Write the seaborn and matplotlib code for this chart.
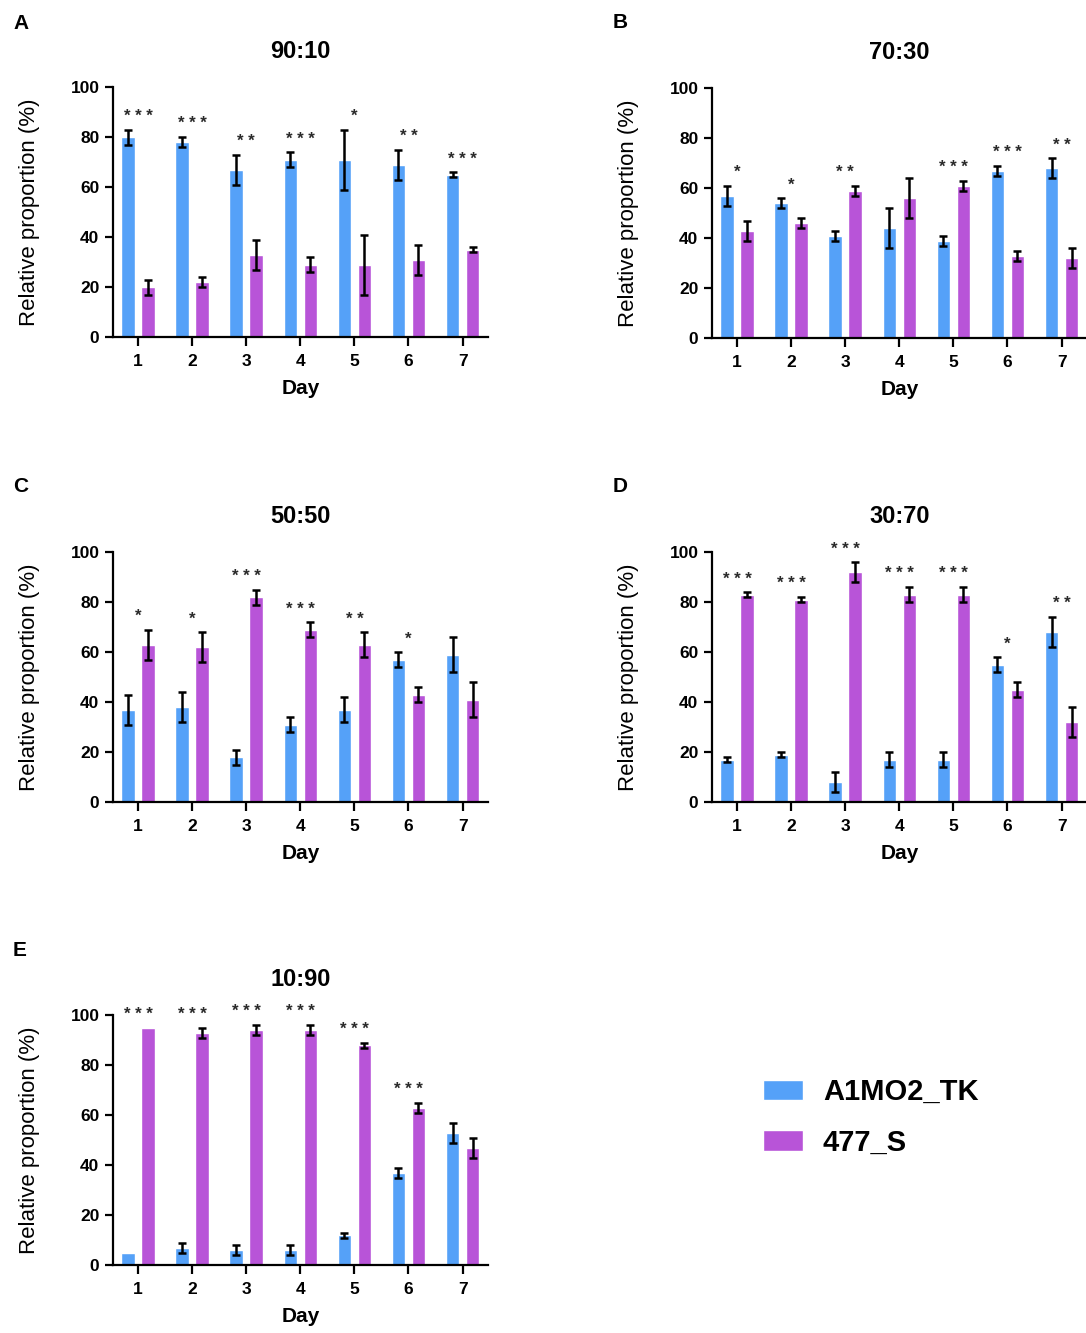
import numpy as np
import pandas as pd
import matplotlib.pyplot as plt
import seaborn as sns

days = ["1", "2", "3", "4", "5", "6", "7"]
strains = ["A1MO2_TK", "477_S"]
colors = ["#55A1F8", "#B854D8"]

ratios = ["90:10", "70:30", "50:50", "30:70", "10:90"]
letters = ["A", "B", "C", "D", "E"]

# relative proportion (%) per day, mean and error (same error on both strains)
tk_90_10 = [80, 78, 67, 71, 71, 69, 65]
s_90_10 = [20, 22, 33, 29, 29, 31, 35]
err_90_10 = [3, 2, 6, 3, 12, 6, 1]
stars_90_10 = ["***", "***", "**", "***", "*", "**", "***"]

tk_70_30 = [57, 54, 41, 44, 39, 67, 68]
s_70_30 = [43, 46, 59, 56, 61, 33, 32]
err_70_30 = [4, 2, 2, 8, 2, 2, 4]
stars_70_30 = ["*", "*", "**", "", "***", "***", "**"]

tk_50_50 = [37, 38, 18, 31, 37, 57, 59]
s_50_50 = [63, 62, 82, 69, 63, 43, 41]
err_50_50 = [6, 6, 3, 3, 5, 3, 7]
stars_50_50 = ["*", "*", "***", "***", "**", "*", ""]

tk_30_70 = [17, 19, 8, 17, 17, 55, 68]
s_30_70 = [83, 81, 92, 83, 83, 45, 32]
err_30_70 = [1, 1, 4, 3, 3, 3, 6]
stars_30_70 = ["***", "***", "***", "***", "***", "*", "**"]

tk_10_90 = [5, 7, 6, 6, 12, 37, 53]
s_10_90 = [95, 93, 94, 94, 88, 63, 47]
err_10_90 = [0, 2, 2, 2, 1, 2, 4]
stars_10_90 = ["***", "***", "***", "***", "***", "***", ""]

panels = [
    (tk_90_10, s_90_10, err_90_10, stars_90_10),
    (tk_70_30, s_70_30, err_70_30, stars_70_30),
    (tk_50_50, s_50_50, err_50_50, stars_50_50),
    (tk_30_70, s_30_70, err_30_70, stars_30_70),
    (tk_10_90, s_10_90, err_10_90, stars_10_90),
]

sns.set_style("ticks")
plt.rcParams['font.family'] = ['Liberation Sans', 'DejaVu Sans']
plt.rcParams['axes.linewidth'] = 1.6
for k in ['text.color', 'axes.labelcolor', 'xtick.color', 'ytick.color', 'axes.edgecolor']:
    plt.rcParams[k] = 'black'

W, H = 1086, 1333
fig = plt.figure(figsize=(W / 100, H / 100), dpi=100)

# axes boxes in pixels: left, top of y=100, bottom at y=0
boxes = [(113, 87, 337), (712, 88, 338), (113, 552, 802), (712, 552, 802), (113, 1015, 1265)]
letter_pos = [(13, 29), (613, 28), (13, 492), (613, 492), (13, 956)]

legend_handles = None
for i, (tk, s, err, stars) in enumerate(panels):
    left, top, bottom = boxes[i]
    ax = fig.add_axes([left / W, 1 - bottom / H, 375 / W, (bottom - top) / H])

    df = pd.DataFrame({
        "Day": days * 2,
        "value": tk + s,
        "Strain": [strains[0]] * 7 + [strains[1]] * 7,
    })
    sns.barplot(data=df, x="Day", y="value", hue="Strain", hue_order=strains,
                palette=colors, saturation=1, width=0.74, gap=0.33,
                errorbar=None, legend=False, ax=ax)
    if legend_handles is None:
        legend_handles = list(ax.containers[:2])

    tops = np.zeros(7)
    for cont in list(ax.containers[:2]):
        xs = np.array([b.get_x() + b.get_width() / 2 for b in cont])
        ys = np.array([b.get_height() for b in cont])
        e = np.array(err, dtype=float)
        m = e > 0
        ax.errorbar(xs[m], ys[m], yerr=e[m], fmt="none", ecolor="black",
                    elinewidth=1.8, capsize=2.6, capthick=1.8, zorder=3)
        tops = np.maximum(tops, ys + e)

    for j, st in enumerate(stars):
        if st:
            ax.text(j, tops[j] + 3.4, " ".join(st), ha="center", va="baseline",
                    fontsize=12, fontweight="bold", color="#2a2a2a", clip_on=False)

    ax.set_xlim(-0.46, 6.47)
    ax.set_ylim(0, 100)
    ax.set_yticks([0, 20, 40, 60, 80, 100])
    sns.despine(ax=ax)
    ax.tick_params(axis="y", length=5.8, width=1.6, pad=4, labelsize=12.5)
    ax.tick_params(axis="x", length=6.5, width=1.6, pad=6, labelsize=12.5)
    for lab in ax.get_xticklabels() + ax.get_yticklabels():
        lab.set_fontweight("bold")
    ax.set_xlabel("Day", fontsize=15, fontweight="bold", labelpad=7)
    ax.set_ylabel("Relative proportion (%)", fontsize=16, labelpad=22)
    ax.set_title(ratios[i], fontsize=17, fontweight="bold", pad=21)

    lx, ly = letter_pos[i]
    fig.text(lx / W, 1 - ly / H, letters[i], fontsize=15, fontweight="bold",
             va="baseline", ha="left")

fig.legend(handles=legend_handles, labels=strains, loc="upper left",
           bbox_to_anchor=(763 / W, 1 - 1078 / H), frameon=False,
           prop={"weight": "bold", "size": 21},
           handlelength=1.38, handleheight=0.69, handletextpad=0.67,
           labelspacing=0.78, borderpad=0, borderaxespad=0)

fig.savefig("out.png", dpi=100)
